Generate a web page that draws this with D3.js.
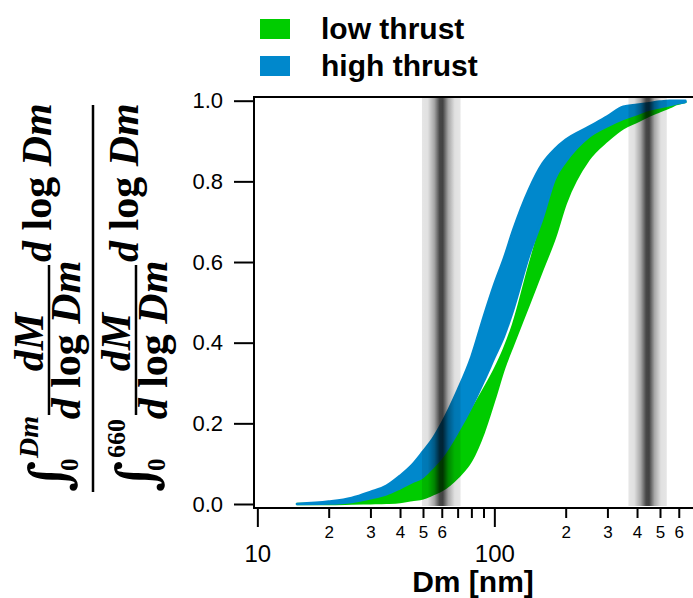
<!DOCTYPE html>
<html>
<head>
<meta charset="utf-8">
<script src="https://cdn.jsdelivr.net/npm/d3@7"></script>
<style>
  body { margin: 0; background: #fff; }
  .chart text { font-family: "Liberation Sans", Arial, sans-serif; }
  .ylab text { font-family: "Liberation Serif", "DejaVu Serif", serif; font-weight: bold; }
</style>
</head>
<body>
<div class="chart"></div>
<script>
// Data
const dm = [14.7, 20, 25, 30, 35, 40, 45, 50, 55, 60, 70, 80, 90, 100, 110, 120, 140, 160, 180, 200, 250, 300, 350, 400, 450, 500, 550, 600, 640]
const highLo = [0, 0.001, 0.005, 0.014, 0.024, 0.039, 0.054, 0.067, 0.091, 0.116, 0.178, 0.240, 0.303, 0.363, 0.417, 0.481, 0.615, 0.710, 0.806, 0.849, 0.910, 0.937, 0.955, 0.967, 0.978, 0.984, 0.989, 0.994, 0.997]
const highHi = [0, 0.006, 0.015, 0.030, 0.045, 0.070, 0.097, 0.130, 0.162, 0.200, 0.282, 0.365, 0.463, 0.545, 0.611, 0.679, 0.780, 0.845, 0.880, 0.903, 0.935, 0.961, 0.985, 0.990, 0.994, 0.998, 1.0, 1.0, 1.0]
const lowLo = [0, 0, 0.001, 0.002, 0.003, 0.005, 0.010, 0.014, 0.024, 0.034, 0.066, 0.108, 0.176, 0.258, 0.337, 0.395, 0.495, 0.583, 0.660, 0.745, 0.854, 0.901, 0.932, 0.948, 0.963, 0.974, 0.984, 0.994, 0.997]
const lowHi = [0, 0.001, 0.004, 0.012, 0.022, 0.036, 0.050, 0.066, 0.088, 0.112, 0.172, 0.230, 0.283, 0.332, 0.385, 0.445, 0.588, 0.705, 0.800, 0.845, 0.905, 0.933, 0.952, 0.965, 0.976, 0.983, 0.988, 0.993, 0.997]

// shaded diameter windows [nm]
const bandFrom = [49.5, 368]
const bandTo = [72, 534]

const yTicks = [0, 0.2, 0.4, 0.6, 0.8, 1.0]
const xMajor = [10, 100]
const xMinor = [20, 30, 40, 50, 60, 70, 80, 90, 200, 300, 400, 500, 600]
const minorLabelled = [2, 3, 4, 5, 6]

const seriesNames = ['low thrust', 'high thrust']
const colors = ['#00cc00', '#0088cc']

// Dimensions
const width = 693
const height = 598
const frame = { left: 254, right: 693, top: 97, bottom: 508 }

const svg = d3.select('.chart')
    .append('svg')
    .attr('width', width)
    .attr('height', height)

const xScale = d3.scaleLog()
    .domain([9.68, 689])
    .range([frame.left, frame.right])

const yScale = d3.scaleLinear()
    .domain([0, 1])
    .range([504, 100.7])

// band gradient (black, opacity peaks in the middle)
const grad = svg.append('defs').append('linearGradient')
    .attr('id', 'bandGrad')
    .attr('x1', 0).attr('x2', 1).attr('y1', 0).attr('y2', 0)
const stops = [[0, 0.1], [0.15, 0.12], [0.32, 0.35], [0.46, 0.72], [0.54, 0.74], [0.68, 0.35], [0.85, 0.12], [1, 0.1]]
grad.selectAll('stop')
    .data(stops)
    .join('stop')
    .attr('offset', d => d[0])
    .attr('stop-color', '#000')
    .attr('stop-opacity', d => d[1])

// Draw ranges
const series = [
    dm.map((d, i) => ({ x: d, lo: lowLo[i], hi: lowHi[i] })),
    dm.map((d, i) => ({ x: d, lo: highLo[i], hi: highHi[i] }))
]

const area = d3.area()
    .x(d => xScale(d.x))
    .y0(d => yScale(d.lo))
    .y1(d => yScale(d.hi))
    .curve(d3.curveMonotoneX)

svg.append('g')
    .selectAll('path')
    .data(series)
    .join('path')
    .attr('d', area)
    .attr('fill', (d, i) => colors[i])
    .attr('stroke', (d, i) => colors[i])
    .attr('stroke-width', 2.5)
    .attr('stroke-linejoin', 'round')

// gray windows on top
svg.append('g')
    .selectAll('rect')
    .data(bandFrom)
    .join('rect')
    .attr('x', d => xScale(d))
    .attr('width', (d, i) => xScale(bandTo[i]) - xScale(d))
    .attr('y', frame.top)
    .attr('height', frame.bottom - frame.top - 2)
    .attr('fill', 'url(#bandGrad)')

// Frame
const frameG = svg.append('g')
    .attr('stroke', '#000')
    .attr('stroke-width', 2)
frameG.append('line')
    .attr('x1', frame.left).attr('x2', frame.left)
    .attr('y1', frame.top - 1).attr('y2', frame.bottom)
frameG.append('line')
    .attr('x1', frame.left - 1).attr('x2', frame.right)
    .attr('y1', frame.top).attr('y2', frame.top)
frameG.append('line')
    .attr('x1', frame.left - 1).attr('x2', frame.right)
    .attr('y1', frame.bottom).attr('y2', frame.bottom)

// Y axis
const yAxis = d3.axisLeft(yScale)
    .tickValues(yTicks)
    .tickFormat(d3.format('.1f'))
    .tickSize(20)
    .tickPadding(11)

const yAxisGroup = svg.append('g')
    .attr('transform', `translate(${frame.left}, 0)`)
    .call(yAxis)
yAxisGroup.select('.domain').remove()
yAxisGroup.selectAll('line').attr('stroke-width', 2)
yAxisGroup.selectAll('text')
    .attr('font-size', 22)
    .attr('fill', '#000')

// X axis: major
const xAxisMajor = d3.axisBottom(xScale)
    .tickValues(xMajor)
    .tickFormat(d3.format('d'))
    .tickSize(19)
    .tickPadding(18)

const xMajorGroup = svg.append('g')
    .attr('transform', `translate(0, ${frame.bottom})`)
    .call(xAxisMajor)
xMajorGroup.select('.domain').remove()
xMajorGroup.selectAll('line').attr('stroke-width', 2)
xMajorGroup.selectAll('text')
    .attr('font-size', 24)
    .attr('fill', '#000')

// X axis: minor
const xAxisMinor = d3.axisBottom(xScale)
    .tickValues(xMinor)
    .tickFormat(d => {
        const lead = Math.round(d / Math.pow(10, Math.floor(Math.log10(d))))
        return minorLabelled.includes(lead) ? lead : ''
    })
    .tickSize(10)
    .tickPadding(8)

const xMinorGroup = svg.append('g')
    .attr('transform', `translate(0, ${frame.bottom})`)
    .call(xAxisMinor)
xMinorGroup.select('.domain').remove()
xMinorGroup.selectAll('line').attr('stroke-width', 2)
xMinorGroup.selectAll('text')
    .attr('font-size', 17)
    .attr('fill', '#000')

// X title
svg.append('text')
    .attr('x', 473)
    .attr('y', 592)
    .attr('text-anchor', 'middle')
    .attr('font-size', 30)
    .attr('font-weight', 'bold')
    .text('Dm [nm]')

// Legend
const legend = svg.append('g')
    .selectAll('g')
    .data(seriesNames)
    .join('g')
    .attr('transform', (d, i) => `translate(260, ${19 + i * 37})`)
legend.append('rect')
    .attr('width', 30)
    .attr('height', 20)
    .attr('fill', (d, i) => colors[i])
legend.append('text')
    .attr('x', 61)
    .attr('y', 20)
    .attr('font-size', 30)
    .attr('font-weight', 'bold')
    .text(d => d)

// Y title: integral ratio, rotated (u along text, v across)
const yl = svg.append('g')
    .attr('class', 'ylab')
    .attr('transform', 'translate(0, 492) rotate(-90)')

function dlogDm(g, x, y, anchor) {
    const t = g.append('text')
        .attr('x', x)
        .attr('y', y)
        .attr('font-size', 42)
        .attr('text-anchor', anchor)
    t.append('tspan').attr('font-style', 'italic').text('d ')
    t.append('tspan').text('log ')
    t.append('tspan').attr('font-style', 'italic').text('Dm')
}

function row(dv, upper, upperItalic) {
    // integral sign with limits
    yl.append('text')
        .attr('x', 0)
        .attr('y', 68 + dv)
        .attr('font-size', 54)
        .style('font-family', '"DejaVu Serif", serif')
        .attr('font-style', 'italic')
        .text('\u222B')
    yl.append('text')
        .attr('x', 34)
        .attr('y', 38 + dv)
        .attr('font-size', upperItalic ? 28 : 26)
        .attr('font-style', upperItalic ? 'italic' : 'normal')
        .text(upper)
    yl.append('text')
        .attr('x', 21)
        .attr('y', 78 + dv)
        .attr('font-size', 25)
        .text('0')
    // inner fraction
    yl.append('line')
        .attr('x1', 77).attr('x2', 227)
        .attr('y1', 49 + dv).attr('y2', 49 + dv)
        .attr('stroke', '#000')
        .attr('stroke-width', 2.5)
    yl.append('text')
        .attr('x', 150)
        .attr('y', 43 + dv)
        .attr('font-size', 42)
        .attr('font-style', 'italic')
        .attr('text-anchor', 'middle')
        .text('dM')
    dlogDm(yl, 152, 80 + dv, 'middle')
    dlogDm(yl, 230, 51 + dv, 'start')
}

row(0, 'Dm', true)
row(87, '660', false)

yl.append('line')
    .attr('x1', 0).attr('x2', 387)
    .attr('y1', 93).attr('y2', 93)
    .attr('stroke', '#000')
    .attr('stroke-width', 2.5)
</script>
</body>
</html>
